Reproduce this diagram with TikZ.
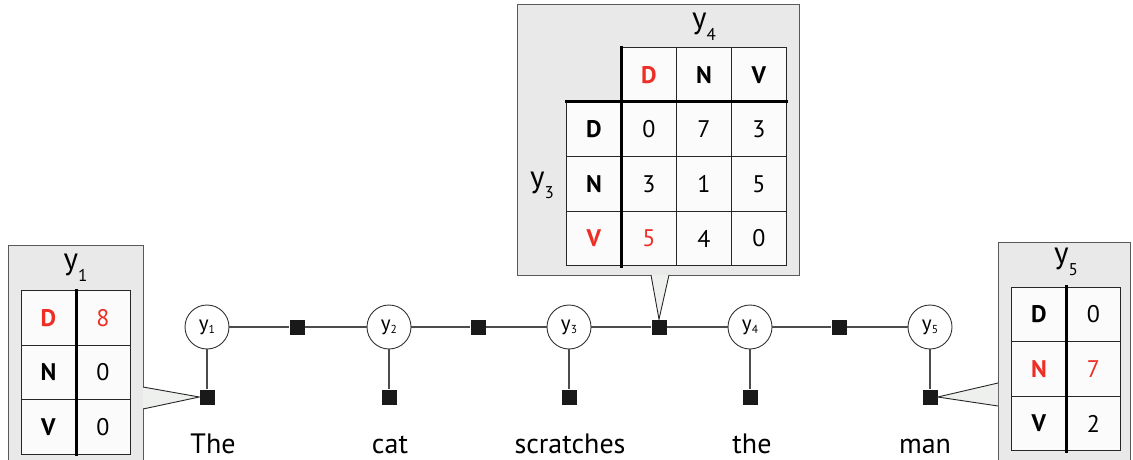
\documentclass[tikz,border=0pt]{standalone}
\usepackage{fontspec}
\setmainfont{PT Sans}
\usepackage{tikz}
\usetikzlibrary{positioning}
\usepackage{xcolor}
\definecolor{tagred}{HTML}{EE2D24}
\definecolor{boxgray}{HTML}{E9E9E9}
\definecolor{cellwhite}{HTML}{FBFBFB}
\definecolor{calloutgray}{HTML}{EEF0EE}
\tikzstyle{fg}=[
  x=1pt,y=-1pt,font=\fontsize{28}{32}\selectfont
]
\tikzstyle{varnode}=[
  draw=black!80,circle,fill=white,minimum size=44pt,inner sep=0pt,line width=0.9pt,
  font=\fontsize{21}{24}\selectfont
]
\tikzstyle{factor}=[
  fill=black!90,minimum size=15pt,inner sep=0pt
]
\tikzstyle{edge}=[
  draw=black!70,line width=1.3pt
]
\tikzstyle{tablebox}=[
  draw=black!65,fill=boxgray,line width=1pt
]
\tikzstyle{cell}=[
  draw=black!85,fill=cellwhite,minimum width=54.5pt,minimum height=54.5pt,inner sep=0pt,
  line width=0.9pt,font=\fontsize{24}{28}\selectfont
]
\tikzstyle{title}=[
  font=\fontsize{31}{34}\selectfont
]
\tikzstyle{callout}=[
  draw=black!85,fill=calloutgray,line width=0.9pt
]
\tikzstyle{divider}=[
  line width=3pt,line cap=rect
]
\tikzstyle{word}=[
  anchor=base,inner sep=0pt
]
\newcommand{\yv}[2][0.3em]{y\raisebox{-#1}{\scalebox{0.55}{#2}}}
\newcommand{\hilite}[1]{\textcolor{tagred}{#1}}

\begin{document}
\begin{tikzpicture}[fg]
    \useasboundingbox (0,0) rectangle (1133,460);
    \clip (0,0) rectangle (1133,460);
    % chain of variables and factors
    \node (v1) at (207,327) [varnode] {\yv[0.15em]{1}};
    \node (v2) at (389,327) [varnode] {\yv[0.15em]{2}};
    \node (v3) at (569,327) [varnode] {\yv[0.15em]{3}};
    \node (v4) at (750,327) [varnode] {\yv[0.15em]{4}};
    \node (v5) at (930,327) [varnode] {\yv[0.15em]{5}};
    \node (f12) at (297,327) [factor] {};
    \node (f23) at (478,327) [factor] {};
    \node (f34) at (659,327) [factor] {};
    \node (f45) at (839,327) [factor] {};
    \node (u1) at (207,397) [factor] {};
    \node (u2) at (389,397) [factor] {};
    \node (u3) at (569,397) [factor] {};
    \node (u4) at (750,397) [factor] {};
    \node (u5) at (930,397) [factor] {};
    \draw [edge] (v1) -- (f12) -- (v2) -- (f23) -- (v3) -- (f34) -- (v4) -- (f45) -- (v5);
    \draw [edge] (v1) -- (u1);
    \draw [edge] (v2) -- (u2);
    \draw [edge] (v3) -- (u3);
    \draw [edge] (v4) -- (u4);
    \draw [edge] (v5) -- (u5);
    % words
    \node (w1) at (213,453) [word] {The};
    \node (w2) at (390,453) [word] {cat};
    \node (w3) at (570,453) [word] {scratches};
    \node (w4) at (752,453) [word] {the};
    \node (w5) at (925,453) [word] {man};

    % unary table for y1
    \path [tablebox] (8,245) rectangle (143,475);
    \coordinate (lc1) at (143,387);
    \coordinate (lc2) at (143,409);
    \path [callout] (lc1) -- (u1.west) -- (lc2);
    \node (l-title) at (75.5,268) [title] {\yv[0.4em]{1}};
    \node (l-d) at (48.5,318) [cell] {\hilite{\textbf{D}}};
    \node (l-dv) at (103,318) [cell] {\hilite{8}};
    \node (l-n) at (48.5,372.5) [cell] {\textbf{N}};
    \node (l-nv) at (103,372.5) [cell] {0};
    \node (l-v) at (48.5,427) [cell] {\textbf{V}};
    \node (l-vv) at (103,427) [cell] {0};
    \draw [divider] (l-d.north east) -- (l-v.south east);

    % pairwise table for y3,y4
    \path [tablebox] (517,5) rectangle (799,275);
    \coordinate (tc1) at (651,275);
    \coordinate (tc2) at (669,275);
    \path [callout] (tc1) -- (f34.north) -- (tc2);
    \node (t-title) at (704,27) [title] {\yv[0.4em]{4}};
    \node (t-side) at (542,185) [title] {\yv[0.35em]{3}};
    \node (h-d) at (649,75) [cell] {\hilite{\textbf{D}}};
    \node (h-n) at (704,75) [cell] {\textbf{N}};
    \node (h-v) at (759,75) [cell] {\textbf{V}};
    \node (r-d) at (594,129.5) [cell] {\textbf{D}};
    \node (r-n) at (594,184) [cell] {\textbf{N}};
    \node (r-v) at (594,238.5) [cell] {\hilite{\textbf{V}}};
    \node (dd) at (649,129.5) [cell] {0};
    \node (dn) at (704,129.5) [cell] {7};
    \node (dv) at (759,129.5) [cell] {3};
    \node (nd) at (649,184) [cell] {3};
    \node (nn) at (704,184) [cell] {1};
    \node (nv) at (759,184) [cell] {5};
    \node (vd) at (649,238.5) [cell] {\hilite{5}};
    \node (vn) at (704,238.5) [cell] {4};
    \node (vv) at (759,238.5) [cell] {0};
    \draw [divider] (h-d.north west) -- (vd.south west);
    \draw [divider] (r-d.north west) -- (dv.north east);

    % unary table for y5
    \path [tablebox] (998,242) rectangle (1130,475);
    \coordinate (rc1) at (998,383);
    \coordinate (rc2) at (998,406);
    \path [callout] (rc1) -- (u5.east) -- (rc2);
    \node (r-title) at (1066,262) [title] {\yv[0.4em]{5}};
    \node (q-d) at (1039,314.5) [cell] {\textbf{D}};
    \node (q-dv) at (1093.5,314.5) [cell] {0};
    \node (q-n) at (1039,369) [cell] {\hilite{\textbf{N}}};
    \node (q-nv) at (1093.5,369) [cell] {\hilite{7}};
    \node (q-v) at (1039,423.5) [cell] {\textbf{V}};
    \node (q-vv) at (1093.5,423.5) [cell] {2};
    \draw [divider] (q-d.north east) -- (q-v.south east);
\end{tikzpicture}
\end{document}
